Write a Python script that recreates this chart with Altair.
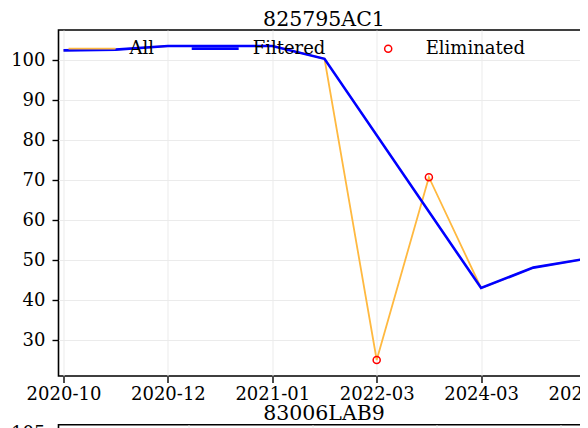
import altair as alt
import pandas as pd

FONT = "DejaVu Serif"

# ---- panel 1 data ----
panel1_title = "825795AC1"
tick_labels = ["2020-10", "2020-12", "2021-01", "2022-03", "2024-03", "2024-09"]
positions = list(range(12))
all_values = [102.4, 102.6, 103.5, 103.5, 103.5, 100.3, 25.0, 70.7, 43.0, 48.1, 50.3, 52.5]
eliminated_positions = [6, 7]
series_names = ["All", "Filtered", "Eliminated"]
series_colors = ["#ffb940", "#0000ff", "#ff0000"]
LINE_HANDLE = "M-6.64,0H6.64"
y_ticks = [30, 40, 50, 60, 70, 80, 90, 100]

# ---- panel 2 (only its top edge is in view) ----
panel2_title = "83006LAB9"
panel2_y_ticks = [105, 95, 85, 75, 65, 55, 45, 35, 25]
panel2_x_ticks = [0, 1, 2, 3]

df_all = pd.DataFrame({"pos": positions, "value": all_values}).assign(series=series_names[0])
df_filt = df_all[~df_all["pos"].isin(eliminated_positions)].assign(series=series_names[1])
df_elim = df_all[df_all["pos"].isin(eliminated_positions)].assign(series=series_names[2])

label_arr = "[" + ",".join("'" + t + "'" for t in tick_labels) + "]"

x_enc = alt.X(
    "pos:Q",
    scale=alt.Scale(domain=[-0.096, 10.077], nice=False, zero=False),
    axis=alt.Axis(values=[0, 2, 4, 6, 8, 10], labelExpr=label_arr + "[datum.value/2]"),
    title=None,
)
y_enc = alt.Y(
    "value:Q",
    scale=alt.Scale(domain=[21, 107.5], nice=False, zero=False),
    axis=alt.Axis(values=y_ticks),
    title=None,
)


def series_color(i, legend_x, symbol, stroke_w):
    return alt.Color(
        "series:N",
        scale=alt.Scale(domain=[series_names[i]], range=[series_colors[i]]),
        title=None,
        legend=alt.Legend(
            legendX=legend_x,
            symbolType=symbol,
            symbolStrokeWidth=stroke_w,
        ),
    )


line_all = alt.Chart(df_all).mark_line(strokeWidth=1.8, clip=True).encode(
    x=x_enc, y=y_enc, color=series_color(0, 24.5, LINE_HANDLE, 1.8)
)

line_filt = alt.Chart(df_filt).mark_line(strokeWidth=2.6, clip=True).encode(
    x=x_enc, y=y_enc, color=series_color(1, 147.7, LINE_HANDLE, 2.8)
)

points = alt.Chart(df_elim).mark_point(filled=False, clip=True, opacity=1, size=50, strokeWidth=1.5).encode(
    x=x_enc, y=y_enc, color=series_color(2, 320.7, "circle", 1.5)
)

panel1 = alt.layer(line_all, line_filt, points).resolve_scale(
    color="independent"
).resolve_legend(color="independent").properties(
    width=531, height=346, title=panel1_title
)

df2 = pd.DataFrame({"x": panel2_x_ticks, "y": panel2_y_ticks[:4]})
panel2 = alt.Chart(df2).mark_point(opacity=0).encode(
    x=alt.X("x:Q", scale=alt.Scale(domain=[-1.048, 3.234], nice=False, zero=False),
            axis=alt.Axis(values=panel2_x_ticks, labels=False), title=None),
    y=alt.Y("y:Q", scale=alt.Scale(domain=[20.6, 107.1], nice=False, zero=False),
            axis=alt.Axis(values=panel2_y_ticks), title=None),
).properties(width=531, height=346, title=panel2_title)

chart = alt.vconcat(panel1, panel2, spacing=-2.3).properties(
    padding={"left": 1.5, "top": 1, "right": -45, "bottom": 0}
).configure_view(
    stroke="black", strokeWidth=1.6
).configure_axis(
    domain=False,
    grid=True,
    gridColor="#ebebeb",
    gridWidth=1,
    tickColor="black",
    tickSize=6.5,
    tickWidth=1.4,
    labelFont=FONT,
    labelFontSize=18,
    labelColor="black",
).configure_axisX(
    labelPadding=3,
).configure_axisY(
    labelPadding=7,
).configure_title(
    font=FONT, fontSize=20.5, fontWeight="normal", color="black", offset=-0.5, anchor="middle"
).configure_legend(
    orient="none",
    legendY=9.7,
    labelOffset=28.5,
    labelFont=FONT,
    labelFontSize=18,
    labelColor="black",
    padding=0,
    symbolSize=50,
)

chart.save("out.html", embed_options={"renderer": "svg", "actions": False})
